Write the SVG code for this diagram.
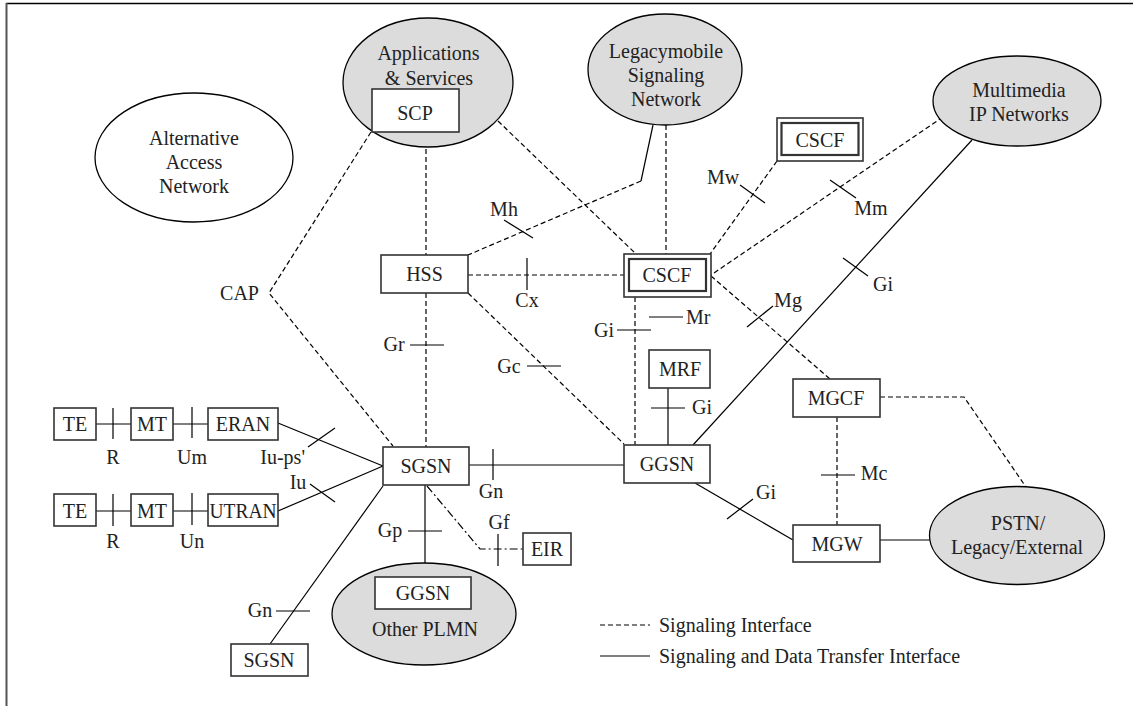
<svg xmlns="http://www.w3.org/2000/svg" width="1133" height="706" viewBox="0 0 1133 706" font-family="Liberation Serif, DejaVu Serif, serif">
<style>
.n{fill:#fff;stroke:#333;stroke-width:1.6}
.ni{fill:none;stroke:#333;stroke-width:2.2}
.e{fill:#dcdcdc;stroke:#000;stroke-width:1.3}
.ew{fill:#fff;stroke:#000;stroke-width:1.3}
.s{fill:none;stroke:#000;stroke-width:1.2}
.d{fill:none;stroke:#000;stroke-width:1.2;stroke-dasharray:5 3}
.dd{fill:none;stroke:#000;stroke-width:1.2;stroke-dasharray:8 3 2 3}
text{font-family:'Liberation Serif','DejaVu Serif',serif;font-size:20px;fill:#222;text-anchor:middle}
.st{text-anchor:start}
.en{text-anchor:end}
</style>
<rect width="1133" height="706" fill="#fff"/>
<g id="frame">
<line x1="6" y1="3.5" x2="1133" y2="3.5" stroke="#000" stroke-width="1.5"/>
<line x1="6.5" y1="3" x2="6.5" y2="706" stroke="#555" stroke-width="2"/>
</g>
<g id="connectors">
<polyline class="d" points="371,132 269,293 393,446"/>
<line class="d" x1="426" y1="149" x2="426" y2="255"/>
<line class="d" x1="426" y1="293" x2="426" y2="447"/>
<line class="d" x1="468" y1="275" x2="624" y2="275"/>
<line class="d" x1="468" y1="293" x2="624" y2="444"/>
<line class="d" x1="498" y1="121" x2="636" y2="254"/>
<line class="s" x1="653" y1="125" x2="641" y2="181"/>
<line class="d" x1="641" y1="181" x2="468" y2="255"/>
<line class="d" x1="666" y1="125" x2="666" y2="254"/>
<line class="d" x1="777" y1="161" x2="710" y2="254"/>
<line class="d" x1="943" y1="117" x2="711" y2="275"/>
<line class="d" x1="711" y1="276" x2="830" y2="379"/>
<line class="d" x1="635" y1="297" x2="635" y2="445"/>
<line class="d" x1="837" y1="417" x2="837" y2="525"/>
<polyline class="d" points="880,397 964,397 1026,487"/>
<polyline class="dd" points="427,486 480,549 523,549"/>
<line class="s" x1="972" y1="140" x2="693" y2="445"/>
<line class="s" x1="668" y1="388" x2="668" y2="445"/>
<line class="s" x1="469" y1="465" x2="624" y2="465"/>
<line class="s" x1="425" y1="485" x2="425" y2="563"/>
<line class="s" x1="383" y1="486" x2="270" y2="644"/>
<line class="s" x1="278" y1="423" x2="383" y2="466"/>
<line class="s" x1="278" y1="511" x2="383" y2="466"/>
<line class="s" x1="96" y1="424" x2="131" y2="424"/>
<line class="s" x1="173" y1="424" x2="208" y2="424"/>
<line class="s" x1="96" y1="511" x2="131" y2="511"/>
<line class="s" x1="173" y1="511" x2="208" y2="511"/>
<line class="s" x1="695" y1="483" x2="793" y2="540"/>
<line class="s" x1="880" y1="540" x2="930" y2="540"/>
<!-- interface ticks -->
<line class="s" x1="504" y1="220" x2="533" y2="238"/>
<line class="s" x1="527" y1="258" x2="527" y2="290"/>
<line class="s" x1="740" y1="185" x2="765" y2="203"/>
<line class="s" x1="830" y1="180" x2="856" y2="198"/>
<line class="s" x1="843" y1="258" x2="868" y2="276"/>
<line class="s" x1="747" y1="327" x2="773" y2="306"/>
<line class="s" x1="649" y1="317" x2="683" y2="317"/>
<line class="s" x1="617" y1="330" x2="651" y2="330"/>
<line class="s" x1="410" y1="345" x2="444" y2="345"/>
<line class="s" x1="527" y1="366" x2="561" y2="366"/>
<line class="s" x1="651" y1="408" x2="685" y2="408"/>
<line class="s" x1="493" y1="449" x2="493" y2="480"/>
<line class="s" x1="821" y1="475" x2="855" y2="475"/>
<line class="s" x1="727" y1="519" x2="753" y2="499"/>
<line class="s" x1="113" y1="408" x2="113" y2="439"/>
<line class="s" x1="192" y1="407" x2="192" y2="438"/>
<line class="s" x1="113" y1="494" x2="113" y2="526"/>
<line class="s" x1="192" y1="493" x2="192" y2="525"/>
<line class="s" x1="308" y1="447" x2="335" y2="428"/>
<line class="s" x1="310" y1="484" x2="335" y2="502"/>
<line class="s" x1="408" y1="531" x2="442" y2="531"/>
<line class="s" x1="498" y1="534" x2="498" y2="566"/>
<line class="s" x1="276" y1="611" x2="310" y2="611"/>
</g>
<g id="labels">
<text x="527" y="307">Cx</text>
<text x="504" y="216">Mh</text>
<text x="723" y="184">Mw</text>
<text x="871" y="215">Mm</text>
<text x="883" y="291">Gi</text>
<text x="788" y="307">Mg</text>
<text class="st" x="686" y="324">Mr</text>
<text class="en" x="614" y="337">Gi</text>
<text x="394" y="351">Gr</text>
<text x="509" y="373">Gc</text>
<text class="st" x="692" y="414">Gi</text>
<text x="491" y="498">Gn</text>
<text x="874" y="480">Mc</text>
<text x="766" y="499">Gi</text>
<text x="239.5" y="300">CAP</text>
<text x="113" y="464">R</text>
<text x="192" y="464">Um</text>
<text class="en" x="305" y="464">Iu-ps'</text>
<text x="298" y="489">Iu</text>
<text x="113" y="548">R</text>
<text x="192" y="548">Un</text>
<text x="390" y="537">Gp</text>
<text x="499" y="529">Gf</text>
<text x="260" y="617">Gn</text>
</g>
<g id="alt-access">
<ellipse class="ew" cx="194" cy="157.5" rx="99" ry="64.5"/>
<text x="194" y="145">Alternative</text>
<text x="194" y="169">Access</text>
<text x="194" y="193">Network</text>
</g>
<g id="applications">
<ellipse class="e" cx="428" cy="82.5" rx="85" ry="64.5"/>
<text x="428.5" y="60">Applications</text>
<text x="429" y="85">&amp; Services</text>
</g>
<g id="scp">
<rect class="n" x="372" y="89" width="87" height="43"/>
<text x="415" y="120">SCP</text>
</g>
<g id="legacy">
<ellipse class="e" cx="665" cy="69.5" rx="77" ry="55.5"/>
<text x="666" y="58">Legacymobile</text>
<text x="666" y="82">Signaling</text>
<text x="666" y="106">Network</text>
</g>
<g id="multimedia">
<ellipse class="e" cx="1017" cy="101" rx="84" ry="45"/>
<text x="1019" y="97">Multimedia</text>
<text x="1019" y="121">IP Networks</text>
</g>
<g id="cscf-top">
<rect class="n" x="777" y="118" width="86" height="43"/>
<rect class="ni" x="781.5" y="123" width="77" height="32"/>
<text x="820" y="147">CSCF</text>
</g>
<g id="hss">
<rect class="n" x="381" y="255" width="87" height="38"/>
<text x="424.5" y="281">HSS</text>
</g>
<g id="cscf">
<rect class="n" x="624" y="254" width="87" height="43"/>
<rect class="ni" x="629" y="259" width="77" height="32"/>
<text x="667" y="282">CSCF</text>
</g>
<g id="mrf">
<rect class="n" x="649" y="350" width="61" height="38"/>
<text x="680" y="376">MRF</text>
</g>
<g id="mgcf">
<rect class="n" x="793" y="379" width="87" height="38"/>
<text x="836" y="405">MGCF</text>
</g>
<g id="ggsn">
<rect class="n" x="624" y="445" width="86" height="38"/>
<text x="667" y="471">GGSN</text>
</g>
<g id="sgsn">
<rect class="n" x="383" y="447" width="86" height="38"/>
<text x="426" y="473">SGSN</text>
</g>
<g id="eir">
<rect class="n" x="523" y="533" width="48" height="32"/>
<text x="547" y="556">EIR</text>
</g>
<g id="mgw">
<rect class="n" x="793" y="525" width="87" height="37"/>
<text x="837" y="551">MGW</text>
</g>
<g id="pstn">
<ellipse class="e" cx="1017" cy="535.5" rx="87.5" ry="49"/>
<text x="1018" y="530">PSTN/</text>
<text x="1017" y="554">Legacy/External</text>
</g>
<g id="te1">
<rect class="n" x="54" y="408" width="42" height="32"/>
<text x="75" y="431">TE</text>
</g>
<g id="mt1">
<rect class="n" x="131" y="408" width="42" height="32"/>
<text x="152" y="431">MT</text>
</g>
<g id="eran">
<rect class="n" x="208" y="408" width="70" height="32"/>
<text x="243" y="431">ERAN</text>
</g>
<g id="te2">
<rect class="n" x="54" y="494" width="42" height="32"/>
<text x="75" y="517.5">TE</text>
</g>
<g id="mt2">
<rect class="n" x="131" y="494" width="42" height="32"/>
<text x="152" y="517.5">MT</text>
</g>
<g id="utran">
<rect class="n" x="208" y="494" width="70" height="32"/>
<text x="243" y="517.5" textLength="67" lengthAdjust="spacingAndGlyphs">UTRAN</text>
</g>
<g id="other-plmn">
<ellipse class="e" cx="424" cy="614" rx="92" ry="51"/>
<rect class="n" x="375" y="577" width="96" height="32"/>
<text x="423" y="600">GGSN</text>
<text x="425" y="636">Other PLMN</text>
</g>
<g id="sgsn-remote">
<rect class="n" x="231" y="644" width="77" height="32"/>
<text x="269" y="667">SGSN</text>
</g>
<g id="legend">
<line class="d" x1="600" y1="625" x2="650" y2="625"/>
<text class="st" x="659" y="632">Signaling Interface</text>
<line class="s" x1="600" y1="656" x2="650" y2="656"/>
<text class="st" x="659" y="663">Signaling and Data Transfer Interface</text>
</g>
</svg>
